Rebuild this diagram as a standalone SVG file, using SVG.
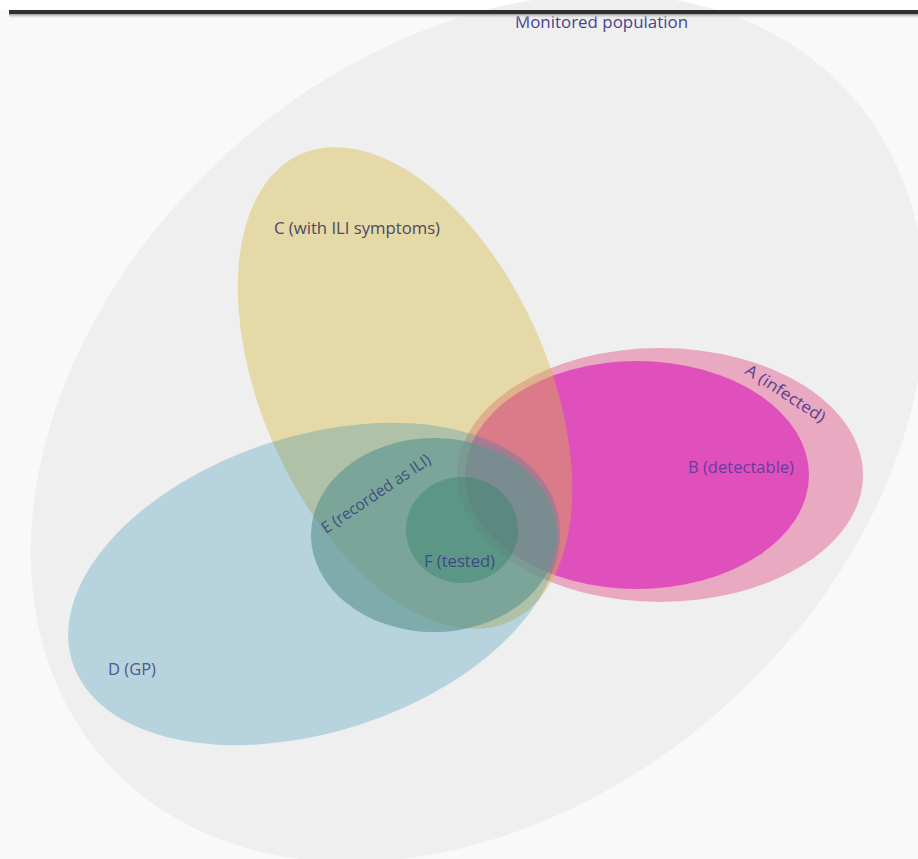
<svg xmlns="http://www.w3.org/2000/svg" width="918" height="859" viewBox="0 0 918 859">
<defs>
<linearGradient id="barShadow" x1="0" y1="0" x2="0" y2="1">
<stop offset="0" stop-color="#9a9a9a"/>
<stop offset="1" stop-color="#f6f6f6" stop-opacity="0"/>
</linearGradient>
<style>
.lbl{font-family:"Open Sans","Liberation Sans",sans-serif;font-size:16px;}
</style>
</defs>
<rect x="0" y="0" width="918" height="859" fill="#f9f9f9"/>
<rect x="0" y="0" width="918" height="10" fill="#ffffff"/>
<g id="population">
<ellipse cx="478" cy="428" rx="500" ry="372" transform="rotate(-42 478 428)" fill="#efefef"/>
<text class="lbl" x="515" y="28" textLength="173" lengthAdjust="spacingAndGlyphs" fill="#4a4190">Monitored population</text>
</g>
<rect x="9" y="10" width="909" height="4" fill="#2f2f2f"/>
<rect x="9" y="14" width="909" height="5" fill="url(#barShadow)"/>
<g id="A">
<ellipse cx="660" cy="475" rx="203" ry="127" fill="#e8a9c1"/>
</g>
<g id="B">
<ellipse cx="637" cy="475" rx="172" ry="114" fill="#e050bd"/>
</g>
<g id="C">
<ellipse cx="405" cy="388" rx="143" ry="256" transform="rotate(-24.1 405 388)" fill="#d4b83b" fill-opacity="0.4"/>
</g>
<g id="D">
<ellipse cx="314" cy="584" rx="254" ry="148" transform="rotate(-18 314 584)" fill="#0f7fab" fill-opacity="0.25"/>
</g>
<g id="E">
<ellipse cx="434" cy="535" rx="123" ry="97" fill="#5f9590" fill-opacity="0.65"/>
</g>
<g id="F">
<ellipse cx="462" cy="530" rx="56" ry="53" fill="#2f8266" fill-opacity="0.4"/>
</g>
<g id="labels">
<text class="lbl" x="274" y="234" textLength="166" lengthAdjust="spacingAndGlyphs" fill="#4e4865">C (with ILI symptoms)</text>
<text class="lbl" x="688" y="473" textLength="106" lengthAdjust="spacingAndGlyphs" fill="#6b3a9e">B (detectable)</text>
<text class="lbl" transform="translate(744 373) rotate(33)" x="0" y="0" textLength="92" lengthAdjust="spacingAndGlyphs" fill="#5a3f92">A (infected)</text>
<text class="lbl" transform="translate(326 534) rotate(-34)" x="0" y="0" textLength="128" lengthAdjust="spacingAndGlyphs" fill="#3f4f82">E (recorded as ILI)</text>
<text class="lbl" x="424" y="567" textLength="71" lengthAdjust="spacingAndGlyphs" fill="#3d4a85">F (tested)</text>
<text class="lbl" x="108" y="675" textLength="48" lengthAdjust="spacingAndGlyphs" fill="#4a5a8e">D (GP)</text>
</g>
</svg>
